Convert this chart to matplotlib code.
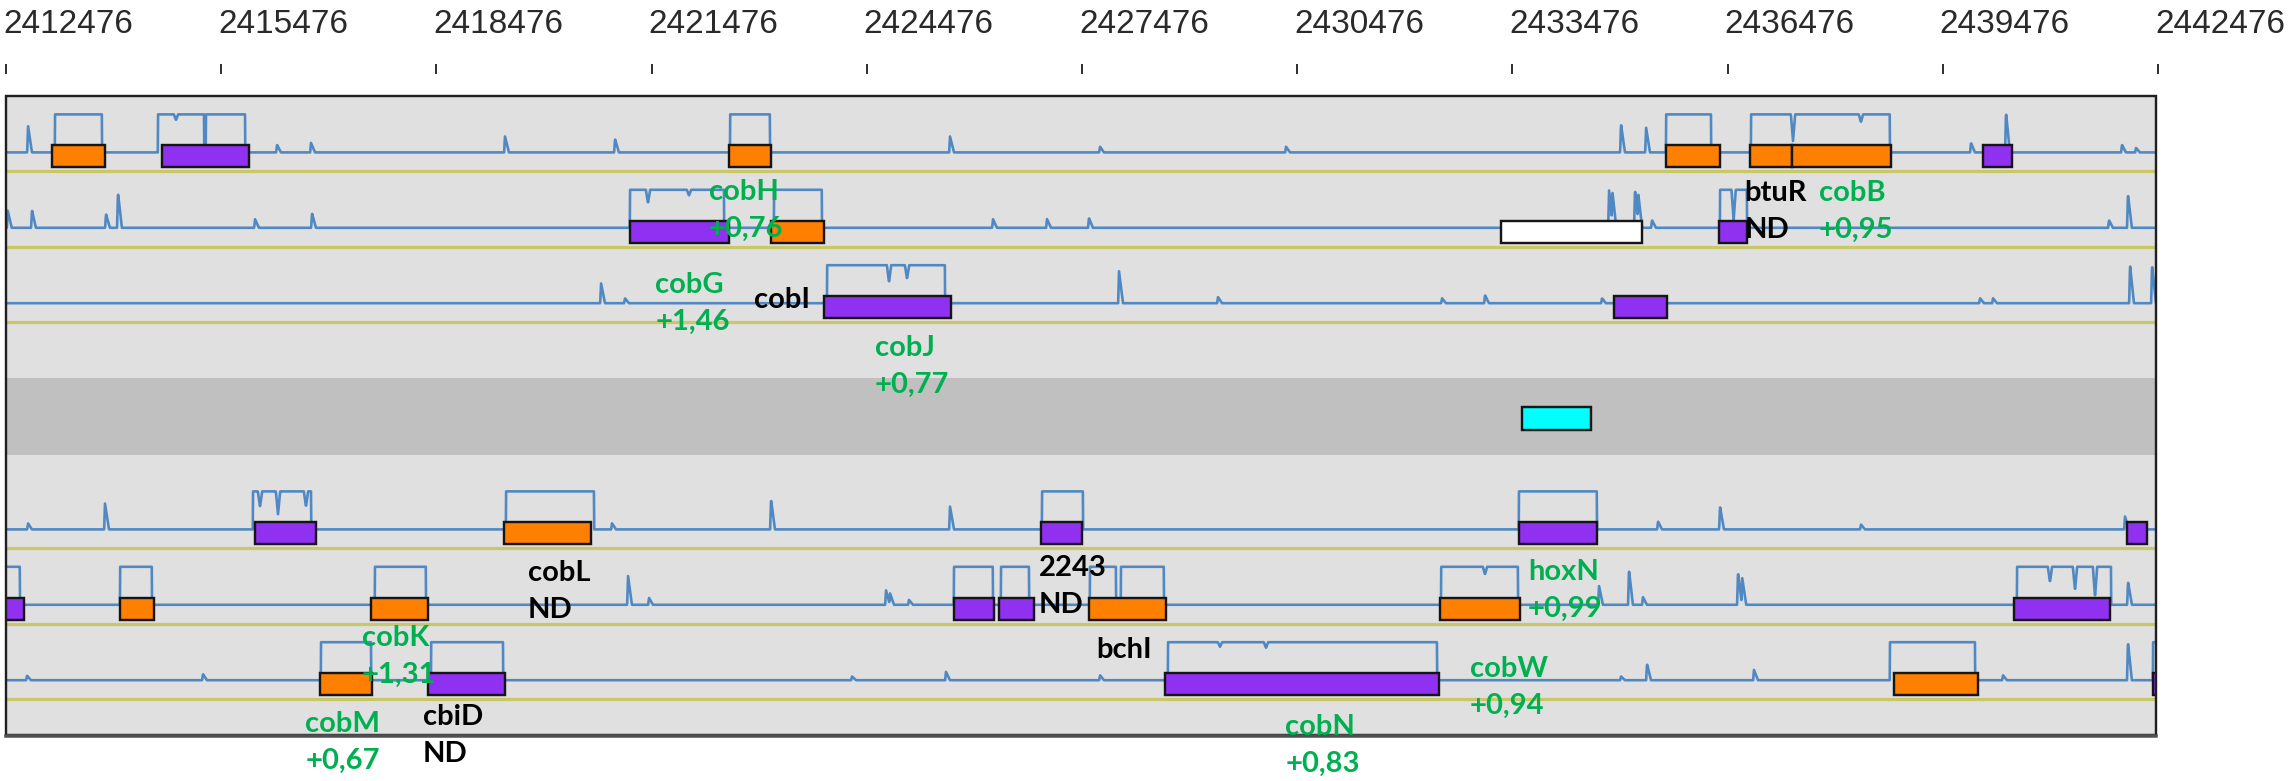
import matplotlib
matplotlib.use("Agg")
import matplotlib.pyplot as plt
import numpy as np
from matplotlib.patches import Rectangle

# ---------------- data ----------------
seq_start = 2412476
seq_end = 2442476
tick_labels = ["2412476", "2415476", "2418476", "2421476", "2424476", "2427476",
               "2430476", "2433476", "2436476", "2439476", "2442476"]
tick_values = [int(t) for t in tick_labels]

# genes: frame row (0-2 forward, 3-5 reverse, 'band' = DNA line), start, end, colour kind
gene_rows = [0, 0, 0, 0, 0, 0, 0,
             1, 1, 1, 1,
             2, 2,
             "band",
             3, 3, 3, 3, 3,
             4, 4, 4, 4, 4, 4, 4, 4,
             5, 5, 5, 5, 5]
gene_starts = [2413117, 2414651, 2422555, 2435617, 2436788, 2437374, 2440036,
               2421175, 2423141, 2433317, 2436356,
               2423879, 2434892,
               2433610,
               2415947, 2419418, 2426904, 2433568, 2442044,
               2412400, 2414065, 2417564, 2425692, 2426319, 2427573, 2432467, 2440469,
               2416853, 2418359, 2428633, 2438796, 2442405]
gene_ends = [2413856, 2415864, 2423141, 2436370, 2437374, 2438754, 2440441,
             2422555, 2423879, 2435283, 2436746,
             2425650, 2435631,
             2434572,
             2416798, 2420631, 2427476, 2434655, 2442322,
             2412727, 2414539, 2418359, 2426249, 2426807, 2428647, 2433582, 2441807,
             2417578, 2419432, 2432452, 2439967, 2442700]
gene_kinds = ["o", "p", "o", "o", "o", "o", "p",
              "p", "o", "w", "p",
              "p", "p",
              "c",
              "p", "o", "p", "p", "p",
              "p", "o", "o", "p", "p", "o", "o", "p",
              "o", "p", "p", "o", "p"]

# coverage profile per frame row: humps (start, end), spikes (pos, rel. height), dips (pos, depth)
cov_humps = {
    0: [(2413159, 2413814), (2414595, 2415236), (2415264, 2415808), (2422569, 2423126),
        (2435617, 2436245), (2436802, 2438739)],
    1: [(2421175, 2422485), (2423182, 2423851), (2436370, 2436746)],
    2: [(2423921, 2425566)],
    3: [(2415919, 2416728), (2419446, 2420673), (2426919, 2427490), (2433568, 2434655)],
    4: [(2412476, 2412671), (2414065, 2414511), (2417620, 2418331), (2425692, 2426235),
        (2426347, 2426737), (2427588, 2427950), (2428020, 2428619), (2432481, 2433554),
        (2440510, 2441821)],
    5: [(2416867, 2417564), (2418401, 2419405), (2428675, 2432425), (2438739, 2439925),
        (2442405, 2442476)],
}
cov_spikes = {
    0: [(2412783, 0.70), (2416254, 0.20), (2416728, 0.25), (2419432, 0.42), (2420966, 0.35),
        (2425636, 0.42), (2427727, 0.15), (2430320, 0.15), (2434990, 0.74), (2435339, 0.66),
        (2439869, 0.25), (2440357, 1.05), (2441974, 0.20), (2442169, 0.12)],
    1: [(2412500, 0.45), (2412838, 0.46), (2413870, 0.36), (2414037, 0.92), (2415947, 0.23),
        (2416742, 0.38), (2426235, 0.23), (2426988, 0.23), (2427573, 0.26), (2434823, 1.00),
        (2434870, 0.95), (2435185, 1.00), (2435230, 0.9), (2435422, 0.20), (2441793, 0.20),
        (2442057, 0.88)],
    2: [(2420771, 0.53), (2421105, 0.13), (2427992, 0.84), (2429372, 0.16), (2432495, 0.13),
        (2433094, 0.21), (2434725, 0.13), (2439995, 0.13), (2440176, 0.13), (2442086, 1.00),
        (2442393, 1.00)],
    3: [(2412783, 0.16), (2413856, 0.68), (2420924, 0.16), (2423141, 0.79), (2425636, 0.60),
        (2435506, 0.21), (2436370, 0.60), (2438335, 0.13), (2442016, 0.34)],
    4: [(2421147, 0.77), (2421440, 0.18), (2424744, 0.38), (2424800, 0.30), (2425064, 0.13),
        (2434683, 0.50), (2435101, 0.92), (2435296, 0.20), (2436621, 0.85), (2436680, 0.7),
        (2442058, 0.60)],
    5: [(2412769, 0.12), (2415222, 0.16), (2424270, 0.10), (2425580, 0.22), (2427727, 0.13),
        (2434990, 0.10), (2435353, 0.43), (2436844, 0.27), (2440315, 0.13), (2442057, 1.00)],
}
cov_dips = {
    0: [(2414846, 0.15), (2437388, 0.70), (2438335, 0.20)],
    1: [(2421426, 0.35), (2421997, 0.15), (2436560, 0.8)],
    2: [(2424786, 0.45), (2425037, 0.35)],
    3: [(2416017, 0.40), (2416268, 0.60), (2416658, 0.40)],
    4: [(2433094, 0.20), (2440970, 0.40), (2441319, 0.60), (2441598, 0.80)],
    5: [(2429400, 0.12), (2430041, 0.15)],
}

# annotations: first / second text line, anchor position (bp), colour, baseline of first line
label_line1 = ["cobH", "cobB", "cobG", "cobJ", "cobK", "cobM", "cobN", "hoxN", "cobW",
               "btuR", "cobI", "cobL", "2243", "bchI", "cbiD"]
label_line2 = ["+0,76", "+0,95", "+1,46", "+0,77", "+1,31", "+0,67", "+0,83", "+0,99", "+0,94",
               "ND", "", "ND", "ND", "", "ND"]
label_bp = [2422270, 2437750, 2421530, 2424590, 2417440, 2416650, 2430310, 2433690, 2432880,
            2436715, 2422910, 2419750, 2426870, 2427670, 2418290]
label_is_green = [True] * 9 + [False] * 6
label_base1 = [200, 201, 293, 356, 646, 732, 735, 580, 677, 201, 308, 581, 576, 658, 725]

# ---------------- layout ----------------
W, H, DPI = 2288, 781, 100
px_left, px_right = 6, 2158            # pixel positions of seq_start / seq_end
ppb = (px_right - px_left) / (seq_end - seq_start)
panel_top, panel_bot = 96, 735
panel_l_bp = seq_start
panel_r_bp = seq_start + (2156 - px_left) / ppb
slot = 75.4
row_slots = {0: 1, 1: 2, 2: 3, 3: 6, 4: 7, 5: 8}
band_top, band_bot = 378, 455
hump_h = 38
line_gap = 37
colors = {"o": "#ff8000", "p": "#9030f0", "w": "#ffffff", "c": "#00ffff"}
blue = "#4f88c2"
yellow = "#c8c868"
green = "#00b050"

fig = plt.figure(figsize=(W / DPI, H / DPI), dpi=DPI)
ax = fig.add_axes([0, 0, 1, 1])
ax.set_xlim(seq_start - px_left / ppb, seq_start + (W - px_left) / ppb)
ax.set_ylim(H, 0)
ax.axis("off")

pt = 72 / DPI  # points per pixel

# panel background
panel = Rectangle((panel_l_bp, panel_top), panel_r_bp - panel_l_bp, panel_bot - panel_top,
                  facecolor="#e0e0e0", edgecolor="none", zorder=0)
ax.add_patch(panel)
ax.add_patch(Rectangle((panel_l_bp, band_top), panel_r_bp - panel_l_bp, band_bot - band_top,
                       facecolor="#c0c0c0", edgecolor="none", zorder=0.5))

# yellow frame lines
for r, s in row_slots.items():
    yy = panel_top + slot * s
    ax.plot([panel_l_bp, panel_r_bp], [yy, yy], color=yellow, lw=3.2 * pt, zorder=1,
            solid_capstyle="butt")

# coverage lines
grid = np.arange(seq_start, seq_end + 1, 4.0)
for r, s in row_slots.items():
    yy = panel_top + slot * s
    base = yy - 19
    lvl = np.zeros_like(grid)
    for a, b in cov_humps[r]:
        lvl[(grid >= a) & (grid <= b)] = 1.0
    for p, h in cov_spikes[r]:
        left = np.clip(1 - (p - grid) / 12.0, 0, 1) * (grid <= p)
        right = np.clip(1 - (grid - p) / 55.0, 0, 1) * (grid > p)
        lvl = np.maximum(lvl, h * (left + right))
    for p, d in cov_dips[r]:
        tri = np.clip(1 - np.abs(grid - p) / 30.0, 0, 1)
        lvl = lvl - d * tri
    line, = ax.plot(grid, base - lvl * hump_h, color=blue, lw=2.6 * pt, zorder=2)
    line.set_clip_path(panel)

# gene boxes
for r, a, b, k in zip(gene_rows, gene_starts, gene_ends, gene_kinds):
    if r == "band":
        top, hh = 407, 23
    else:
        yy = panel_top + slot * row_slots[r]
        top, hh = yy - 26, 22
    rect = Rectangle((a, top), b - a, hh, facecolor=colors[k], edgecolor="#151515",
                     lw=2.4 * pt, zorder=3)
    ax.add_patch(rect)
    rect.set_clip_path(panel)

# panel border
ax.add_patch(Rectangle((panel_l_bp, panel_top), panel_r_bp - panel_l_bp, panel_bot - panel_top,
                       facecolor="none", edgecolor="#202020", lw=2.4 * pt, zorder=4))
ax.plot([panel_l_bp, panel_r_bp], [panel_bot + 1, panel_bot + 1], color="#505050",
        lw=3.5 * pt, zorder=4)

# ruler ticks & labels
for v, t in zip(tick_values, tick_labels):
    ax.plot([v, v], [65, 73], color="#333333", lw=2 * pt, zorder=4)
    ax.text(v - 3 / ppb, 33, t, fontsize=24, family=["Liberation Sans", "DejaVu Sans"],
            color="#2a2a2a", ha="left", va="baseline", zorder=5)

# annotations
for t1, t2, bp, g, y1 in zip(label_line1, label_line2, label_bp, label_is_green, label_base1):
    c = green if g else "black"
    ax.text(bp, y1, t1, fontsize=21, fontweight="bold", family=["Lato", "DejaVu Sans"],
            color=c, ha="left", va="baseline", zorder=6)
    if t2:
        ax.text(bp, y1 + line_gap, t2, fontsize=21, fontweight="bold",
                family=["Lato", "DejaVu Sans"], color=c, ha="left", va="baseline", zorder=6)

fig.savefig("out.png", dpi=DPI)
